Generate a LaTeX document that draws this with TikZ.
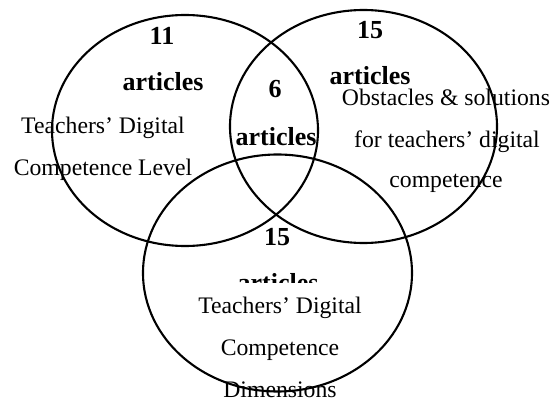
\documentclass[tikz,border=0pt]{standalone}
\usepackage{fontspec}
\setmainfont{Liberation Serif}
\begin{document}
\begin{tikzpicture}[x=1pt,y=-1pt,
  ring/.style={draw=black,line width=2.1pt},
  num/.style={anchor=base,inner sep=0pt,font=\fontsize{26}{26}\selectfont\bfseries},
  lbl/.style={anchor=base,inner sep=0pt,font=\fontsize{23.7}{24}\selectfont}]
\useasboundingbox (0,0) rectangle (551,401);
% left set
\node[num] (l1) at (162,45) {11};
\node[num] (l2) at (163,91) {articles};
\node[lbl] (l3) at (103,133) {Teachers’ Digital};
\node[lbl] (l4) at (103,175) {Competence Level};
% middle
\node[num] (m1) at (275,98) {6};
\node[num] (m2) at (276,146) {articles};
% right set
\node[num] (r1) at (370,39) {15};
\node[num] (r2) at (370,85) {articles};
\node[lbl] (r3) at (446,106) {Obstacles \& solutions};
\node[lbl] (r4) at (447,147) {for teachers’ digital};
\node[lbl] (r5) at (446,187) {competence};
% bottom set
\node[num] (b1) at (277,245) {15};
\begin{scope}
\clip (200,250) rectangle (360,282);
\node[num] (b2) at (278,291) {articles};
\end{scope}
\node[lbl] (b3) at (280,313) {Teachers’ Digital};
\node[lbl] (b4) at (280,355) {Competence};
\node[lbl] (b5) at (280,397) {Dimensions};
% circles
\draw[ring] (185,130.5) ellipse [x radius=133, y radius=115.5];
\draw[ring] (363.5,126.5) ellipse [x radius=133.5, y radius=116.5];
\draw[ring] (277.5,273) ellipse [x radius=134.5, y radius=118.5];
\end{tikzpicture}
\end{document}
